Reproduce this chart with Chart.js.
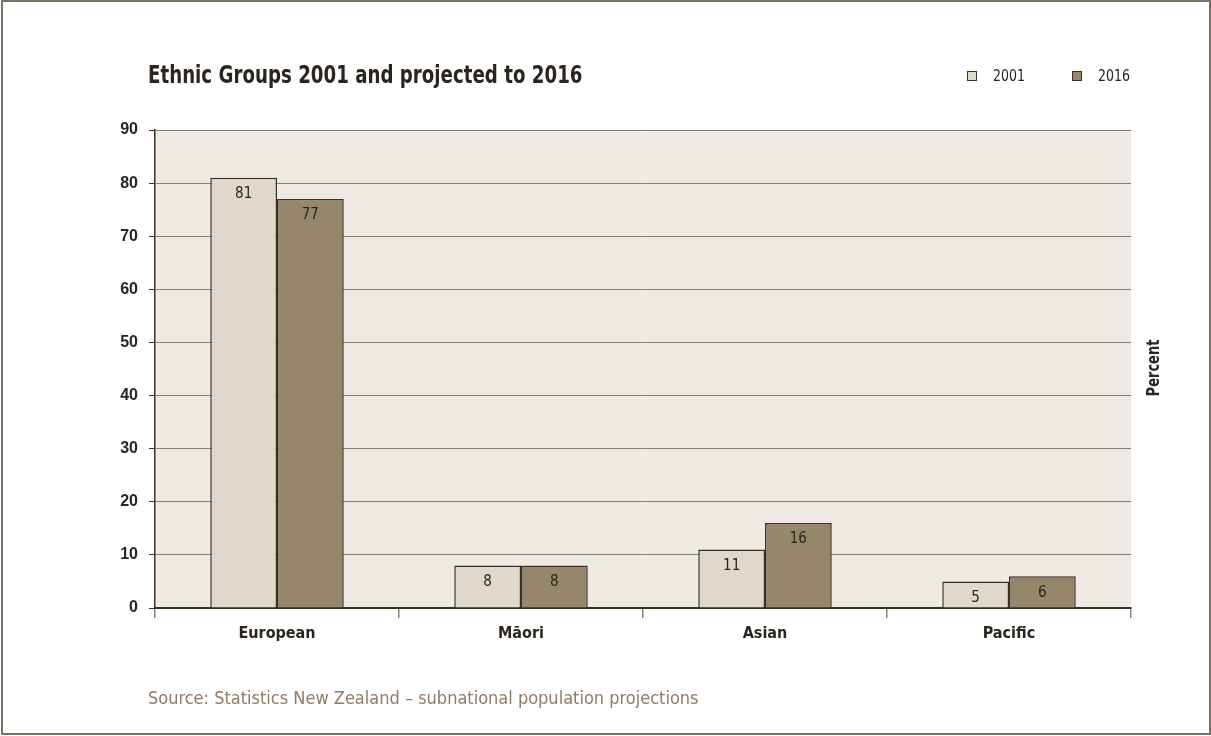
<!DOCTYPE html>
<html>
<head>
<meta charset="utf-8">
<title>Ethnic Groups 2001 and projected to 2016</title>
<script src="https://cdn.jsdelivr.net/npm/chart.js@4.4.1/dist/chart.umd.min.js"></script>
<style>
  html, body { margin: 0; padding: 0; background: #fff; }
  #wrap {
    position: relative; width: 1211px; height: 736px; overflow: hidden;
    font-family: "DejaVu Sans Condensed", "Liberation Sans Narrow", "Liberation Sans", sans-serif;
    color: #2b251d;
  }
  #frame {
    position: absolute; left: 1px; top: 0; width: 1210px; height: 735px;
    box-sizing: border-box; border: 2px solid #7a7264;
  }
  #chart { position: absolute; left: 0; top: 0; }
  #title {
    position: absolute; left: 148px; top: 62px;
    font-size: 25px; font-weight: bold; line-height: 1; white-space: nowrap;
    transform: scaleX(0.81); transform-origin: left center;
  }
  #legend {
    position: absolute; left: 967px; top: 68px;
    display: flex; gap: 45px; font-size: 15px; line-height: 16px;
  }
  #legend .item { display: flex; align-items: center; gap: 16px; }
  #legend .item span:last-child { display: inline-block; transform: scaleX(0.93); transform-origin: left center; }
  #legend .swatch {
    width: 10px; height: 10px; box-sizing: border-box;
    border: 1.5px solid #3a3024;
  }
  #percent {
    position: absolute; left: 1153px; top: 368px;
    transform: translate(-50%, -50%) rotate(-90deg) scaleX(0.85);
    font-size: 17px; font-weight: bold; line-height: 1;
  }
  #source {
    position: absolute; left: 148px; top: 689px;
    font-size: 18px; line-height: 1; color: #8e7c66; white-space: nowrap;
  }
</style>
</head>
<body>
<div id="wrap">
  <canvas id="chart" width="1211" height="736"></canvas>
  <div id="frame"></div>
  <div id="title">Ethnic Groups 2001 and projected to 2016</div>
  <div id="legend"></div>
  <div id="percent">Percent</div>
  <div id="source">Source: Statistics New Zealand – subnational population projections</div>
</div>
<script>
// Share of population by ethnic group, percent
const categories = ['European', 'Māori', 'Asian', 'Pacific'];
const years = ['2001', '2016'];
const share2001 = [81, 8, 11, 5];
const share2016 = [77, 8, 16, 6];
const yMax = 90;
const yStep = 10;

const fontFamily = '"DejaVu Sans Condensed", "Liberation Sans Narrow", "Liberation Sans", sans-serif';
const ink = '#2b251d';
const edge = '#3a3024';

// beige panel behind the bars
const plotBackground = {
  id: 'plotBackground',
  beforeDraw(chart) {
    const { ctx, chartArea: a } = chart;
    ctx.save();
    ctx.fillStyle = '#efebe4';
    ctx.fillRect(a.left, a.top, a.right - a.left, a.bottom - a.top);
    ctx.restore();
  }
};

// value printed just inside the top of each bar
const barValues = {
  id: 'barValues',
  afterDatasetsDraw(chart) {
    const { ctx } = chart;
    ctx.save();
    ctx.font = '15px ' + fontFamily;
    ctx.fillStyle = ink;
    ctx.textAlign = 'center';
    ctx.textBaseline = 'middle';
    chart.data.datasets.forEach((ds, i) => {
      chart.getDatasetMeta(i).data.forEach((bar, j) => {
        ctx.fillText(String(ds.data[j]), bar.x, bar.y + 16.5);
      });
    });
    ctx.restore();
  }
};

const chart = new Chart(document.getElementById('chart'), {
  type: 'bar',
  data: {
    labels: categories,
    datasets: [
      {
        label: years[0],
        data: share2001,
        backgroundColor: '#dfd8cd',
        borderColor: edge,
        borderWidth: 1.5,
        categoryPercentage: 0.547,
        barPercentage: 1
      },
      {
        label: years[1],
        data: share2016,
        backgroundColor: '#96866b',
        borderColor: edge,
        borderWidth: 1.5,
        categoryPercentage: 0.547,
        barPercentage: 1
      }
    ]
  },
  options: {
    responsive: false,
    animation: false,
    layout: { padding: { top: 130, right: 80, left: 0, bottom: 0 } },
    plugins: {
      legend: { display: false },
      tooltip: { enabled: false }
    },
    scales: {
      x: {
        afterFit(scale) { scale.height = 128; },
        grid: {
          offset: true,
          drawOnChartArea: false,
          tickLength: 10,
          tickColor: '#8a8479',
          lineWidth: 1.5
        },
        border: { color: edge, width: 2 },
        ticks: {
          color: ink,
          padding: 6,
          font: { family: fontFamily, size: 16, weight: 'bold' }
        }
      },
      y: {
        min: 0,
        max: yMax,
        afterFit(scale) { scale.width = 155; },
        grid: {
          color: '#858075',
          lineWidth: 1,
          tickLength: 6,
          tickColor: edge
        },
        border: { color: edge, width: 1.5 },
        ticks: {
          stepSize: yStep,
          color: ink,
          padding: 11,
          font: { family: '"Liberation Sans", sans-serif', size: 16, weight: 'bold' }
        }
      }
    }
  },
  plugins: [plotBackground, barValues]
});

// legend row built from the datasets
const legend = document.getElementById('legend');
chart.data.datasets.forEach(ds => {
  const item = document.createElement('div');
  item.className = 'item';
  const sw = document.createElement('span');
  sw.className = 'swatch';
  sw.style.background = ds.backgroundColor;
  const txt = document.createElement('span');
  txt.textContent = ds.label;
  item.appendChild(sw);
  item.appendChild(txt);
  legend.appendChild(item);
});
</script>
</body>
</html>
